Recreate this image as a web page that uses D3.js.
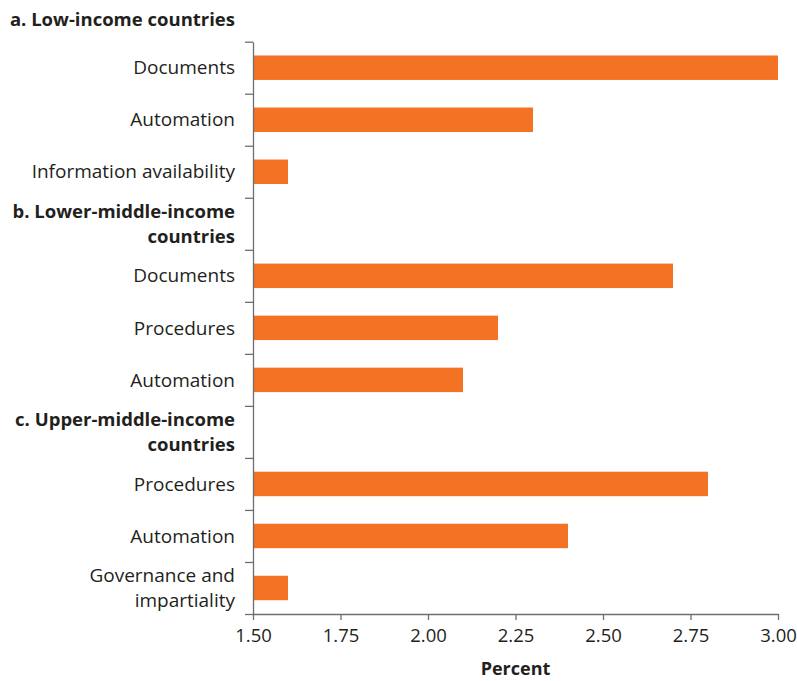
<!DOCTYPE html>
<html>
<head>
<meta charset="utf-8">
<script src="https://cdn.jsdelivr.net/npm/d3@7"></script>
<style>
  body { margin: 0; background: #fff; }
  svg text { font-family: "Open Sans", sans-serif; fill: #231f20; }
</style>
</head>
<body>
<svg id="chart" width="797" height="681"></svg>
<script>
// groups and their bars, top to bottom
var groupLabels = [["a. Low-income countries"], ["b. Lower-middle-income", "countries"], ["c. Upper-middle-income", "countries"]];
var categories = [["Documents"], ["Automation"], ["Information availability"],
                  ["Documents"], ["Procedures"], ["Automation"],
                  ["Procedures"], ["Automation"], ["Governance and", "impartiality"]];
var groupOf = [0, 0, 0, 1, 1, 1, 2, 2, 2];
var values = [3.0, 2.3, 1.6, 2.7, 2.2, 2.1, 2.8, 2.4, 1.6];
var xTicks = [1.5, 1.75, 2.0, 2.25, 2.5, 2.75, 3.0];

var svg = d3.select("#chart");
var plotLeft = 253, plotRight = 778, plotTop = 41.7, plotBottom = 614;
var orange = "#f37224";
var axisColor = "#6d6e71";

// build rows: first group header sits above the plot, the others take a row
var rows = [];
categories.forEach(function(c, i) {
  var g = groupOf[i];
  if (i > 0 && groupOf[i - 1] != g) {
    rows.push({type: "header", lines: groupLabels[g]});
  }
  rows.push({type: "bar", lines: c, value: values[i]});
});

var x = d3.scaleLinear().domain([1.5, 3.0]).range([plotLeft, plotRight]);
var y = d3.scaleBand().domain(d3.range(rows.length)).range([plotTop, plotBottom]);
var yIdx = d3.scaleLinear().domain([0, rows.length]).range([plotTop, plotBottom]);

// bars
svg.selectAll(".bar")
  .data(rows.map(function(r, i) { return {r: r, i: i}; }).filter(function(d) { return d.r.type == "bar"; }))
  .enter()
  .append("rect")
  .attr("class", "bar")
  .attr("x", x(1.5))
  .attr("y", function(d) { return y(d.i) + y.bandwidth() * 0.265; })
  .attr("width", function(d) { return x(d.r.value) - x(1.5); })
  .attr("height", y.bandwidth() * 0.47)
  .style("fill", orange);

// y axis with ticks at row boundaries
var yAxis = svg.append("g")
  .attr("transform", "translate(" + plotLeft + ",0)")
  .call(d3.axisLeft(yIdx).tickValues(d3.range(0, rows.length + 1)).tickFormat("").tickSize(8).tickSizeOuter(0));
yAxis.select(".domain").attr("stroke", axisColor).attr("stroke-width", 1.3);
yAxis.selectAll(".tick line").attr("stroke", axisColor).attr("stroke-width", 1.3);

// x axis
var xAxis = svg.append("g")
  .attr("transform", "translate(0," + plotBottom + ")")
  .call(d3.axisBottom(x).tickValues(xTicks).tickFormat(d3.format(".2f")).tickSize(6).tickSizeOuter(0));
xAxis.select(".domain").attr("stroke", axisColor).attr("stroke-width", 1.3);
xAxis.selectAll(".tick text")
  .attr("y", 15)
  .style("font-size", "18.5px")
  .style("font-family", "'Open Sans', sans-serif")
  .style("fill", "#231f20");
xAxis.selectAll(".tick line").attr("stroke", axisColor).attr("stroke-width", 1.3);

// row labels
var lineH = 25;
function addLabel(lines, cy, bold, xpos) {
  var t = svg.append("text")
    .attr("x", xpos)
    .attr("y", cy)
    .attr("text-anchor", "end")
    .style("font-size", bold ? "18.5px" : "19px")
    .style("font-weight", bold ? "bold" : "normal");
  lines.forEach(function(l, k) {
    t.append("tspan")
      .attr("x", xpos)
      .attr("y", cy - (lines.length - 1) * lineH / 2 + k * lineH)
      .attr("dy", "0.35em")
      .text(l);
  });
}

rows.forEach(function(r, i) {
  addLabel(r.lines, y(i) + y.bandwidth() / 2, r.type == "header", 235);
});
// header of the first group, above the plot
addLabel(groupLabels[0], 20, true, 235);

// axis title
svg.append("text")
  .attr("x", (plotLeft + plotRight) / 2)
  .attr("y", 669)
  .attr("dy", "0.35em")
  .attr("text-anchor", "middle")
  .style("font-size", "18px")
  .style("font-weight", "bold")
  .text("Percent");
</script>
</body>
</html>
